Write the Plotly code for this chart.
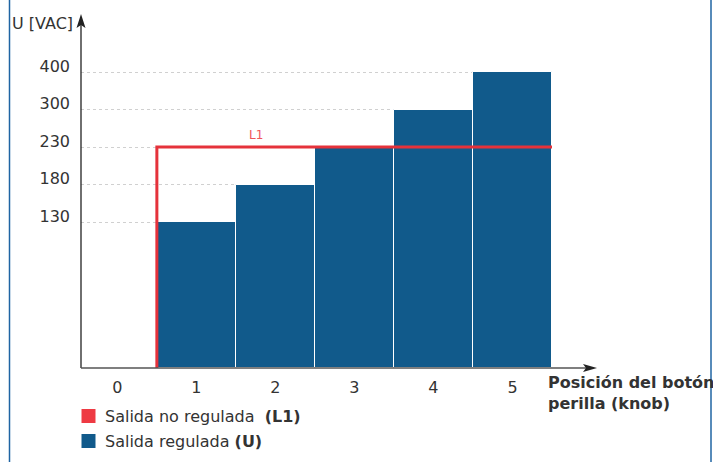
import plotly.graph_objects as go

# ---- data ----
knob_positions = [0, 1, 2, 3, 4, 5]
voltage_levels = [130, 180, 230, 300, 400]          # y tick labels (schematic, evenly spaced)
regulated_u = [None, 130, 180, 230, 300, 400]       # Salida regulada (U)
unregulated_l1 = [0, 230, 230, 230, 230, 230]       # Salida no regulada (L1)

x_title = "<b>Posición del botón<br>perilla (knob)</b>"
y_title = "U [VAC]"
name_l1 = "Salida no regulada&nbsp; <b>(L1)</b>"
name_u = "Salida regulada <b>(U)</b>"

# ---- schematic scale: levels evenly spaced, 0 at the baseline ----
LEVEL_OFFSET = 3.893


def ypos(v):
    if v is None:
        return None
    if v == 0:
        return 0
    return LEVEL_OFFSET + voltage_levels.index(v)


BLUE = "#115a8b"
RED = "#e5323b"
LEG_RED = "#ee3a43"
FONT = "DejaVu Sans"
TXT = "#333333"
FS = 16

W, H = 713, 463
ML, MR, MT, MB = 81, 161, 14, 95
PW, PH = W - ML - MR, H - MT - MB


def px_x(p):
    return (p - ML) / PW


def px_y(p):
    return (H - MB - p) / PH


fig = go.Figure()

bx = [k for k, v in zip(knob_positions, regulated_u) if v is not None]
by = [ypos(v) for v in regulated_u if v is not None]
fig.add_trace(go.Bar(x=bx, y=by, name="Salida regulada (U)",
                     marker=dict(color=BLUE, line=dict(color="white", width=1)),
                     showlegend=False, hoverinfo="skip"))

# L1 step line: rises at the boundary between knob 0 and 1, then stays flat
lx = [knob_positions[1] - 0.5]
ly = [ypos(unregulated_l1[0])]
for k, v in zip(knob_positions[1:], unregulated_l1[1:]):
    lx.append(k - 0.5)
    ly.append(ypos(v))
lx.append(knob_positions[-1] + 0.5)
ly.append(ypos(unregulated_l1[-1]))
fig.add_trace(go.Scatter(x=lx, y=ly, mode="lines", name="Salida no regulada (L1)",
                         line=dict(color=RED, width=3),
                         showlegend=False, hoverinfo="skip", cliponaxis=False))

shapes = []
# axes lines
shapes.append(dict(type="line", xref="paper", yref="paper", x0=0, x1=0, y0=0, y1=px_y(22),
                   line=dict(color="#222222", width=1.3)))
shapes.append(dict(type="line", xref="paper", yref="paper", x0=0, x1=px_x(590), y0=0, y1=0,
                   line=dict(color="#555555", width=1.3)))
# arrowheads
shapes.append(dict(type="path", xref="paper", yref="paper", xsizemode="pixel", ysizemode="pixel",
                   xanchor=0, yanchor=px_y(14),
                   path="M0,0 L-4.5,-14 L0,-11 L4.5,-14 Z", fillcolor="#222222", line=dict(width=0)))
shapes.append(dict(type="path", xref="paper", yref="paper", xsizemode="pixel", ysizemode="pixel",
                   xanchor=px_x(597), yanchor=0,
                   path="M0,0 L-14,4 L-11,0 L-14,-4 Z", fillcolor="#222222", line=dict(width=0)))
# outer blue border lines
for xp in (9.5, 711):
    shapes.append(dict(type="line", xref="paper", yref="paper", x0=px_x(xp), x1=px_x(xp),
                       y0=px_y(462), y1=px_y(0), line=dict(color="#1f64a3", width=1.5)))

# legend (drawn as swatches + text)
legend_items = [(name_l1, LEG_RED, 416), (name_u, BLUE, 441)]
annotations = []
for text, col, cy in legend_items:
    shapes.append(dict(type="rect", xref="paper", yref="paper",
                       x0=px_x(81.5), x1=px_x(95.5), y0=px_y(cy - 7), y1=px_y(cy + 7),
                       fillcolor=col, line=dict(width=0)))
    annotations.append(dict(text=text, xref="paper", yref="paper", x=px_x(103), y=px_y(cy),
                            xanchor="left", yanchor="middle", showarrow=False,
                            font=dict(size=FS, color=TXT, family=FONT)))

annotations += [
    dict(text=y_title, xref="paper", yref="paper", x=px_x(10), y=px_y(24), xanchor="left",
         yanchor="middle", showarrow=False, font=dict(size=FS, color=TXT, family=FONT)),
    dict(text=x_title, xref="paper", yref="paper", x=px_x(546), y=px_y(393), xanchor="left",
         yanchor="middle", align="left", showarrow=False, font=dict(size=FS, color=TXT, family=FONT)),
    dict(text="L1", xref="x", yref="y", x=1.76, y=ypos(230), yshift=12, showarrow=False,
         font=dict(size=12, color="#f0545a", family=FONT)),
]

fig.update_layout(
    width=W, height=H,
    margin=dict(l=ML, r=MR, t=MT, b=MB, autoexpand=False),
    paper_bgcolor="white", plot_bgcolor="white",
    font=dict(family=FONT, color=TXT, size=FS),
    bargap=0,
    shapes=shapes,
    annotations=annotations,
    showlegend=False,
    xaxis=dict(range=[-0.46, 5.5], tickvals=knob_positions, ticktext=[str(k) for k in knob_positions],
               showgrid=False, zeroline=False, showline=False, ticks="", ticklabelstandoff=8,
               tickfont=dict(size=FS, color=TXT), fixedrange=True),
    yaxis=dict(range=[0, PH / 37.5], tickvals=[ypos(v) for v in voltage_levels],
               ticktext=[str(v) for v in voltage_levels], showgrid=True, griddash="dot",
               gridcolor="#d0d0d0", gridwidth=1, zeroline=False, showline=False, ticks="",
               ticklabelstandoff=10, ticklabelshift=-6, tickfont=dict(size=FS, color=TXT),
               fixedrange=True),
)

fig.write_html("out.html", post_script="document.body.style.margin='0px';",
               config={"displayModeBar": False})
